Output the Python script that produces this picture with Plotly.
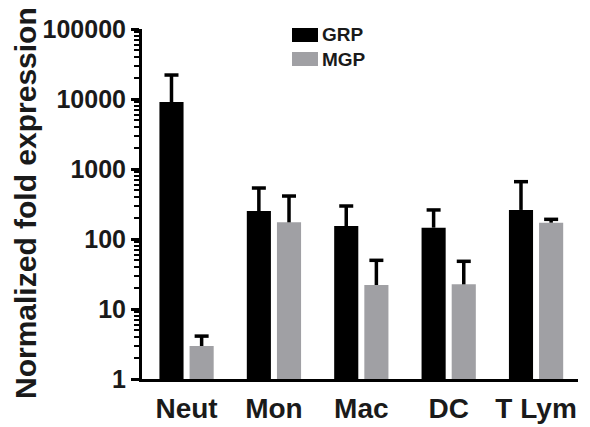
import plotly.graph_objects as go

categories = ["Neut", "Mon", "Mac", "DC", "T Lym"]
grp_values = [9060, 251, 153, 145, 260]
grp_err_top = [22000, 535, 296, 260, 659]
mgp_values = [2.96, 173, 22, 22.5, 171]
mgp_err_top = [4.1, 411, 49.6, 48, 191]
y_tick_vals = [1, 10, 100, 1000, 10000, 100000]
y_tick_text = ["1", "10", "100", "1000", "10000", "100000"]

GRP_COLOR = "#000000"
MGP_COLOR = "#A0A0A4"
FONT = "Liberation Sans, Arial, sans-serif"
BARGAP = 0.31

fig = go.Figure()
for name, vals, tops, color in [("GRP", grp_values, grp_err_top, GRP_COLOR),
                                ("MGP", mgp_values, mgp_err_top, MGP_COLOR)]:
    fig.add_trace(go.Bar(
        x=categories, y=vals, name=name, marker_color=color,
        marker_line_width=0,
        error_y=dict(type="data", symmetric=False,
                     array=[t - v for t, v in zip(tops, vals)],
                     arrayminus=[0] * len(vals),
                     color="black", thickness=3.5, width=0),
    ))
# error-bar caps (top only), grouped like the bars
for name, tops in [("GRP", grp_err_top), ("MGP", mgp_err_top)]:
    fig.add_trace(go.Scatter(
        x=categories, y=tops, mode="markers", name=name + " cap",
        marker=dict(symbol="line-ew", size=10, color="black",
                    line=dict(width=3.5, color="black")),
        hoverinfo="skip",
    ))

fig.update_layout(
    width=590, height=427,
    margin=dict(l=142, r=12, t=29, b=48, autoexpand=False),
    paper_bgcolor="white", plot_bgcolor="white",
    barmode="group", bargap=BARGAP, bargroupgap=0.2,
    scattermode="group", scattergap=BARGAP,
    showlegend=False,
    font=dict(family=FONT, color="#1a1a1a"),
)
fig.update_xaxes(
    range=[-0.51, 4.48], showline=True, linewidth=3, linecolor="black",
    automargin=False,
    ticks="outside", ticklen=2, tickcolor="rgba(0,0,0,0)",
    tickfont=dict(size=28, family=FONT, weight="bold", color="#1a1a1a"),
    showgrid=False, zeroline=False,
)
fig.update_yaxes(
    type="log", range=[0, 5], showline=True, linewidth=3, linecolor="black",
    automargin=False,
    tickvals=y_tick_vals, ticktext=y_tick_text,
    ticks="outside", ticklen=8, tickwidth=3, tickcolor="black",
    minor=dict(ticks="outside", ticklen=5, tickwidth=2, tickcolor="black", dtick="D1"),
    tickfont=dict(size=25, family=FONT, weight="bold", color="#1a1a1a"),
    showgrid=False, zeroline=False,
)

# y-axis title
fig.add_annotation(xref="paper", yref="paper", x=-(142 - 25) / 436, y=(427 - 48 - 203) / 350,
                   text="Normalized fold expression", textangle=-90, showarrow=False,
                   xanchor="center", yanchor="middle",
                   font=dict(size=30, family=FONT, weight="bold", color="#1a1a1a"))

# custom legend
legend_items = [("GRP", GRP_COLOR, 35), ("MGP", MGP_COLOR, 59)]
for name, color, yc in legend_items:
    fig.add_shape(type="rect", xref="paper", yref="paper",
                  x0=(292 - 142) / 436, x1=(318 - 142) / 436,
                  y0=(427 - 48 - (yc + 7)) / 350, y1=(427 - 48 - (yc - 7)) / 350,
                  fillcolor=color, line_width=0)
    fig.add_annotation(xref="paper", yref="paper", x=(320 - 142) / 436,
                       y=(427 - 48 - yc) / 350, text=name, showarrow=False,
                       xanchor="left", yanchor="middle",
                       font=dict(size=19, family=FONT, weight="bold", color="#1a1a1a"))

fig.write_html("out.html", config={"displayModeBar": False},
               post_script="document.body.style.margin='0';document.body.style.padding='0';")
